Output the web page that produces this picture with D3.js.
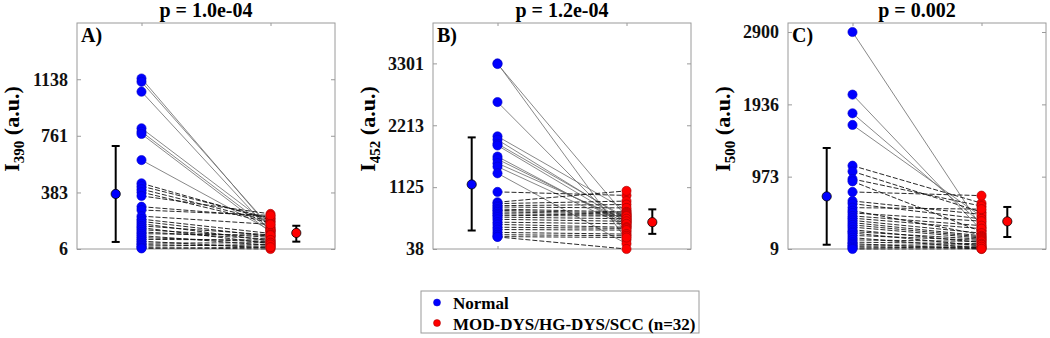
<!DOCTYPE html>
<html>
<head>
<meta charset="utf-8">
<script src="https://cdn.jsdelivr.net/npm/d3@7"></script>
<style>
  body { margin: 0; background: #fff; }
  svg { display: block; font-family: "Liberation Serif", "Times New Roman", serif; font-weight: bold; }
</style>
</head>
<body>
<div id="chart"></div>
<script>
// panel texts
var panelLetters = ["A)", "B)", "C)"];
var pTitles = ["p = 1.0e-04", "p = 1.2e-04", "p = 0.002"];
var subscripts = ["390", "452", "500"];

// y axis ticks (linspace of min..max) and upper limit of each panel
var ticksA = [6, 383, 761, 1138];
var ticksB = [38, 1125, 2213, 3301];
var ticksC = [9, 973, 1936, 2900];
var yTopA = 1513, yTopB = 4011, yTopC = 3020;

// paired values, same index = same patient
var normalA = [1143, 1121, 1055, 811, 788, 773, 599, 444, 425, 405, 385, 360, 288, 266, 225, 205,
               190, 175, 160, 148, 135, 120, 108, 95, 82, 70, 58, 45, 35, 25, 15, 10];
var lesionA = [140, 150, 125, 160, 135, 118, 130, 200, 210, 190, 180, 240, 220, 230, 170, 110,
               90, 60, 100, 42, 84, 72, 98, 30, 54, 66, 12, 48, 24, 36, 6, 18];

var normalB = [3301, 3290, 2621, 2018, 1959, 1888, 1858, 1663, 1617, 1546, 1486, 1369, 1042, 860, 836, 800,
               776, 740, 717, 690, 658, 630, 599, 560, 510, 470, 421, 380, 330, 290, 256, 250];
var lesionB = [200, 600, 340, 720, 555, 585, 510, 460, 495, 540, 440, 130, 980, 1060, 880, 820,
               760, 690, 670, 650, 630, 615, 570, 525, 480, 420, 400, 370, 300, 270, 240, 38];

var normalC = [2900, 2066, 1817, 1662, 1119, 1043, 942, 910, 769, 649, 613, 560, 520, 489, 450, 420,
               390, 360, 330, 300, 266, 240, 222, 190, 160, 130, 100, 80, 60, 40, 22, 9];
var lesionC = [300, 260, 350, 440, 620, 500, 580, 240, 720, 470, 410, 540, 200, 380, 320, 280,
               220, 185, 170, 155, 95, 140, 50, 125, 20, 110, 80, 9, 65, 30, 40, 12];

// mean with error bar [mean, low, high]
var normalStatA = [373, 53, 693],   lesionStatA = [113, 55, 161];
var normalStatB = [1173, 363, 2000], lesionStatB = [510, 304, 735];
var normalStatC = [710, 66, 1355],  lesionStatC = [377, 169, 569];

var legendLabels = ["Normal", "MOD-DYS/HG-DYS/SCC (n=32)"];

var panels = [
    {ticks: ticksA, ymax: yTopA, normal: normalA, lesion: lesionA, ns: normalStatA, ls: lesionStatA},
    {ticks: ticksB, ymax: yTopB, normal: normalB, lesion: lesionB, ns: normalStatB, ls: lesionStatB},
    {ticks: ticksC, ymax: yTopC, normal: normalC, lesion: lesionC, ns: normalStatC, ls: lesionStatC}
];

var width = 1050, height = 338;
var lefts = [77, 433, 788];
var pw = 258, plotTop = 23, plotBottom = 249;
var axisColor = "#9a9a9a";

var svg = d3.select("#chart").append("svg")
    .attr("width", width)
    .attr("height", height);

panels.forEach(function (p, i) {
    var x = d3.scaleLinear().domain([0.5, 2.5]).range([lefts[i], lefts[i] + pw]);
    var y = d3.scaleLinear().domain([p.ticks[0], p.ymax]).range([plotBottom, plotTop]);
    var g = svg.append("g");

    // box
    g.append("rect")
        .attr("x", x(0.5)).attr("y", plotTop)
        .attr("width", pw).attr("height", plotBottom - plotTop)
        .attr("fill", "none").attr("stroke", axisColor).attr("stroke-width", 1);

    // left axis, ticks pointing inside
    var yAxis = d3.axisLeft(y).tickValues(p.ticks).tickSize(-4).tickPadding(9).tickFormat(d3.format("d"));
    var ay = g.append("g").attr("transform", "translate(" + x(0.5) + ",0)").call(yAxis);
    ay.select(".domain").remove();
    ay.selectAll("line").attr("stroke", axisColor);
    ay.selectAll("text").attr("font-size", 18).attr("fill", "#111")
        .attr("font-family", "Liberation Serif").attr("font-weight", "bold");

    // right side ticks
    var yRight = d3.axisRight(y).tickValues(p.ticks).tickSize(-4).tickFormat("");
    var ar = g.append("g").attr("transform", "translate(" + x(2.5) + ",0)").call(yRight);
    ar.select(".domain").remove();
    ar.selectAll("line").attr("stroke", axisColor);

    // small x ticks top and bottom
    var xb = g.append("g").attr("transform", "translate(0," + plotBottom + ")")
        .call(d3.axisBottom(x).tickValues([1, 2]).tickSize(-3).tickFormat(""));
    xb.select(".domain").remove();
    xb.selectAll("line").attr("stroke", axisColor);
    var xt = g.append("g").attr("transform", "translate(0," + plotTop + ")")
        .call(d3.axisTop(x).tickValues([1, 2]).tickSize(-3).tickFormat(""));
    xt.select(".domain").remove();
    xt.selectAll("line").attr("stroke", axisColor);

    // paired lines: big drops solid grey, the rest dashed
    var range = p.ymax - p.ticks[0];
    var pairs = p.normal.map(function (v, k) { return [v, p.lesion[k]]; });
    var steep = function (d) { return (d[0] - d[1]) > 0.25 * range; };
    g.append("g").selectAll("line")
        .data(pairs)
        .join("line")
        .attr("x1", x(1)).attr("x2", x(2))
        .attr("y1", function (d) { return y(d[0]); })
        .attr("y2", function (d) { return y(d[1]); })
        .attr("stroke", function (d) { return steep(d) ? "#6a6a6a" : "#111"; })
        .attr("stroke-width", function (d) { return steep(d) ? 0.8 : 0.9; })
        .attr("stroke-dasharray", function (d) { return steep(d) ? null : "5,2"; });

    // dots
    g.append("g").selectAll("circle")
        .data(p.normal)
        .join("circle")
        .attr("cx", x(1)).attr("cy", function (d) { return y(d); })
        .attr("r", 4.6)
        .attr("fill", "#0000ff").attr("stroke", "#0000c8").attr("stroke-width", 0.6);

    g.append("g").selectAll("circle")
        .data(p.lesion)
        .join("circle")
        .attr("cx", x(2)).attr("cy", function (d) { return y(d); })
        .attr("r", 4.6)
        .attr("fill", "#ff0000").attr("stroke", "#a00000").attr("stroke-width", 0.6);

    // mean +- error bars
    var stats = [{pos: 0.8, s: p.ns, c: "#0000ff"}, {pos: 2.2, s: p.ls, c: "#ff0000"}];
    stats.forEach(function (st) {
        var cx = x(st.pos);
        g.append("line").attr("x1", cx).attr("x2", cx)
            .attr("y1", y(st.s[1])).attr("y2", y(st.s[2]))
            .attr("stroke", "#000").attr("stroke-width", 2);
        [st.s[1], st.s[2]].forEach(function (v) {
            g.append("line").attr("x1", cx - 4).attr("x2", cx + 4)
                .attr("y1", y(v)).attr("y2", y(v))
                .attr("stroke", "#000").attr("stroke-width", 2);
        });
        g.append("circle").attr("cx", cx).attr("cy", y(st.s[0])).attr("r", 4.6)
            .attr("fill", st.c).attr("stroke", "#000").attr("stroke-width", 0.8);
    });

    // title
    g.append("text")
        .attr("x", x(1.5)).attr("y", 17)
        .attr("text-anchor", "middle")
        .attr("font-size", 20)
        .text(pTitles[i]);

    // panel letter
    g.append("text")
        .attr("x", x(0.5) + 4).attr("y", 42)
        .attr("font-size", 20)
        .text(panelLetters[i]);

    // y label
    var lab = g.append("text")
        .attr("transform", "translate(" + (x(0.5) - 58) + "," + ((plotTop + plotBottom) / 2 - 7) + ") rotate(-90)")
        .attr("text-anchor", "middle")
        .attr("font-size", 22);
    lab.append("tspan").text("I");
    lab.append("tspan").attr("font-size", 15).attr("dy", 5).text(subscripts[i]);
    lab.append("tspan").attr("dy", -5).text(" (a.u.)");
});

// legend
var leg = svg.append("g");
leg.append("rect")
    .attr("x", 421).attr("y", 291)
    .attr("width", 278).attr("height", 42)
    .attr("fill", "#fff").attr("stroke", axisColor);
var legColors = ["#0000ff", "#ff0000"];
legendLabels.forEach(function (t, k) {
    var yy = 302.5 + k * 20.5;
    leg.append("circle").attr("cx", 437).attr("cy", yy).attr("r", 3.5)
        .attr("fill", legColors[k]).attr("stroke", k ? "#a00000" : "#0000c8").attr("stroke-width", 0.5);
    leg.append("text").attr("x", 453).attr("y", yy + 6.5)
        .attr("font-size", 17).text(t);
});
</script>
</body>
</html>
